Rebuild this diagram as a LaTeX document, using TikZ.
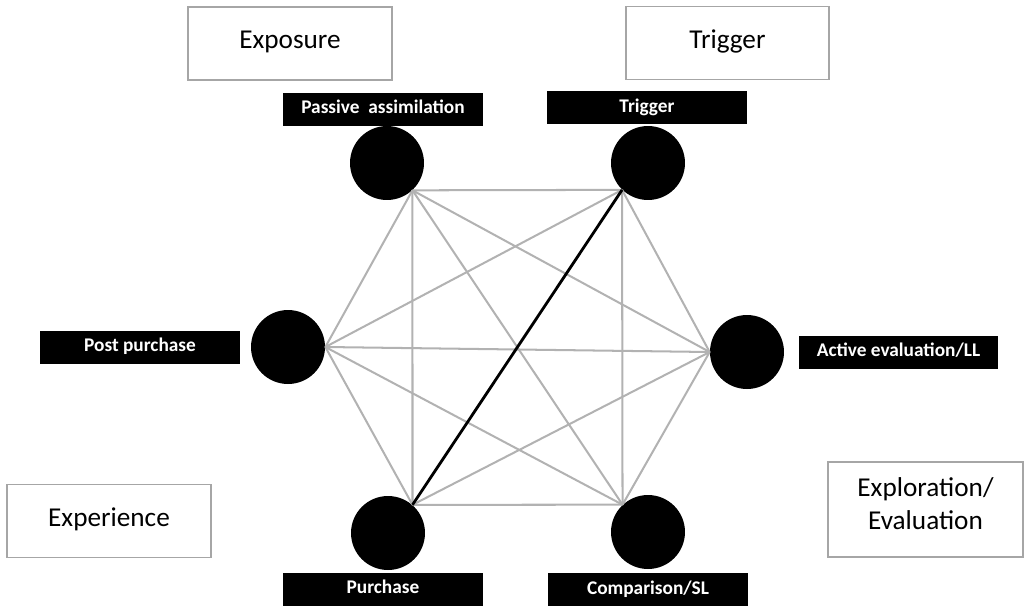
\documentclass[tikz,border=0pt]{standalone}
\usepackage{fontspec}
\setmainfont{Carlito}
\usetikzlibrary{calc}

\tikzset{
  stage/.style={draw=gray!70, thick, fill=white, minimum width=4.08cm, minimum height=1.46cm, inner sep=2pt, align=center, font=\fontsize{15.5}{19}\selectfont},
  single/.style={text height=9pt, text depth=3pt},
  tag/.style={fill=black, text=white, minimum width=4cm, minimum height=0.66cm, inner sep=0pt, text height=7.5pt, text depth=2.2pt, font=\bfseries\fontsize{11}{13}\selectfont},
  touch/.style={circle, fill=black, minimum size=1.48cm, inner sep=0pt},
  link/.style={gray!60, line width=1.15pt}
}

\begin{document}
\begin{tikzpicture}[x=0.02cm, y=-0.02cm]
    \useasboundingbox (0,0) rectangle (1025,606);

    % Phase boxes
    \node[stage, single] (exposure) at (290,43.5) {Exposure};
    \node[stage, single, minimum width=4.06cm] (trigphase) at (727.5,43) {Trigger};
    \node[stage, single] (experience) at (109,521) {Experience};
    \node[stage, minimum width=3.9cm, minimum height=1.9cm] (explore) at (925.5,509.5) {Exploration/\\Evaluation\\[-12pt]};

    % Touch points
    \node[touch] (passive) at (387,163) {};
    \node[touch] (trigger) at (648,163) {};
    \node[touch] (post) at (288,347) {};
    \node[touch] (active) at (747,352) {};
    \node[touch] (purchase) at (388,533) {};
    \node[touch] (compare) at (648,532) {};

    % Labels
    \node[tag] (passivetag) at (383,109) {Passive\ \ assimilation};
    \node[tag] (triggertag) at (647,107.5) {Trigger};
    \node[tag] (posttag) at (140,347) {Post purchase};
    \node[tag] (activetag) at (898.5,352) {Active evaluation/LL};
    \node[tag] (purchasetag) at (383,589) {Purchase};
    \node[tag] (comparetag) at (648,589.5) {Comparison/SL};

    % Hubs on the circles
    \coordinate (h1) at (passive.-47);
    \coordinate (h2) at (trigger.-134);
    \coordinate (h3) at (active.west);
    \coordinate (h4) at (compare.133);
    \coordinate (h5) at (purchase.49);
    \coordinate (h6) at (post.east);

    % All links
    \foreach \a/\b in {h1/h2, h1/h3, h1/h4, h1/h5, h1/h6, h2/h3, h2/h4, h2/h6,
                       h3/h4, h3/h5, h3/h6, h4/h5, h4/h6, h5/h6}
        \draw[link] (\a) -- (\b);
    \draw[line width=1.6pt] (h2) -- (h5);
\end{tikzpicture}
\end{document}
